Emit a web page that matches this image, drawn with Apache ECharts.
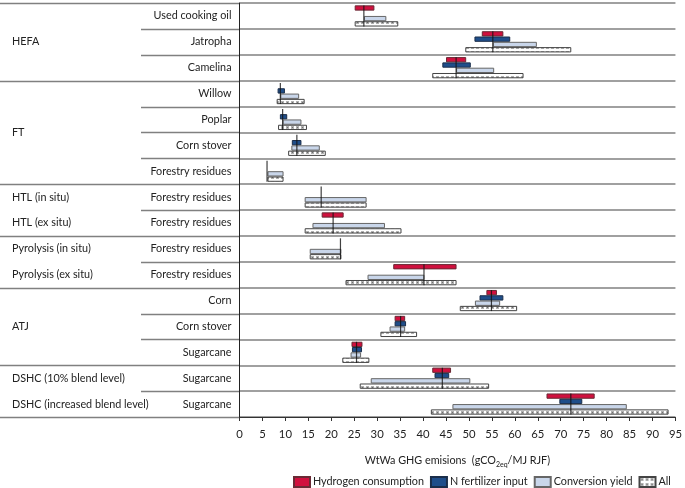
<!DOCTYPE html>
<html><head><meta charset="utf-8">
<script src="https://cdn.jsdelivr.net/npm/echarts@6/dist/echarts.min.js"></script>
<style>html,body{margin:0;padding:0;background:#fff}#c{width:685px;height:488px}</style>
</head><body><div id="c"></div>
<script>
// ---- data ----
const feedstocks = ['Used cooking oil','Jatropha','Camelina','Willow','Poplar','Corn stover','Forestry residues',
  'Forestry residues','Forestry residues','Forestry residues','Forestry residues','Corn','Corn stover','Sugarcane','Sugarcane','Sugarcane'];
const processLabels = [['HEFA',0,2],['FT',3,6],['HTL (in situ)',7,7],['HTL (ex situ)',8,8],
  ['Pyrolysis (in situ)',9,9],['Pyrolysis (ex situ)',10,10],['ATJ',11,13],
  ['DSHC (10% blend level)',14,14],['DSHC (increased blend level)',15,15]];
const groupBreaks = [0,3,7,9,11,14,16];
const baseline = [27.1,55.2,47.2,8.9,9.4,12.5,6.0,17.8,20.4,22.0,40.2,54.9,35.1,25.5,44.2,72.2];
const hydrogen = [[25.1,29.4],[52.8,57.5],[45.0,49.4],null,null,null,null,null,[17.9,22.7],null,[33.5,47.3],
  [53.8,56.1],[33.8,36.1],[24.4,26.8],[42.0,46.1],[66.9,77.4]];
const nFertilizer = [null,[51.2,59.0],[44.2,50.4],[8.3,9.9],[8.8,10.4],[11.4,13.5],null,null,null,null,null,
  [52.3,57.5],[33.8,36.3],[24.5,26.7],[42.5,45.7],[69.7,74.7]];
const conversion = [[27.1,32.0],[55.2,64.8],[47.2,55.5],[8.9,13.0],[9.4,13.5],[11.3,17.5],[6.1,9.6],[14.2,27.7],
  [15.9,31.7],[15.3,22.2],[27.9,40.3],[51.3,56.8],[32.7,36.1],[24.2,26.5],[28.6,50.3],[46.4,84.4]];
const allParams = [[25.1,34.6],[49.2,72.3],[42.0,61.9],[8.1,14.2],[8.4,14.7],[10.6,18.8],[6.1,9.6],[14.2,27.7],
  [14.2,35.3],[15.3,22.2],[23.1,47.3],[48.0,60.5],[30.7,38.7],[22.4,28.3],[26.2,54.4],[41.7,93.5]];
const seriesNames = ['Hydrogen consumption','N fertilizer input','Conversion yield','All'];
const xTicks = {min:0, max:95, interval:5};

// ---- rendering ----
const keys = feedstocks.map((_,i)=>'r'+i);
const pc = document.createElement('canvas');
pc.width = 5; pc.height = 5;
const g = pc.getContext('2d');
g.fillStyle = '#fff'; g.fillRect(0,0,5,5);
g.fillStyle = '#b0b0b0';
g.fillRect(1,1,3,1); g.fillRect(1,3,3,1); g.fillRect(1,2,1,1); g.fillRect(3,2,1,1);
g.fillStyle = '#707070'; g.fillRect(2,2,1,1);
const FONT = 'Lato';
const FS = 10.8;
const styles = [
  {color:'#d0103e', borderColor:'#6a2a35', borderWidth:1},
  {color:'#1f4e8a', borderColor:'#1b2e4a', borderWidth:1},
  {color:'#c9d6ea', borderColor:'#666', borderWidth:1},
  {color:{image:pc, repeat:'repeat'}, borderColor:'#444', borderWidth:1}
];
const sets = [hydrogen, nFertilizer, conversion, allParams];
const series = [];
sets.forEach((pairs, k) => {
  series.push({type:'bar', name:'_base'+k, stack:'s'+k, silent:true, barGap:'0%', barCategoryGap:'18%',
    data: pairs.map(p => p ? p[0] : null), itemStyle:{color:'rgba(0,0,0,0)', borderWidth:0},
    emphasis:{disabled:true}});
  series.push({type:'bar', name:seriesNames[k], stack:'s'+k, silent:true, barGap:'0%', barCategoryGap:'18%',
    data: pairs.map(p => p ? +(p[1]-p[0]).toFixed(2) : null), itemStyle:styles[k],
    emphasis:{disabled:true}});
});
series.push({type:'scatter', name:'_baseline', silent:true, z:5, symbol:'rect', symbolSize:[1.2,21],
  data: baseline.map((v,i)=>[v,keys[i]]), itemStyle:{color:'#111'}});

const chart = echarts.init(document.getElementById('c'), null, {renderer:'canvas'});
chart.setOption({
  animation:false,
  textStyle:{fontFamily:FONT},
  grid:{left:239.5, right:7, top:3, bottom:71},
  legend:{data:seriesNames, icon:'rect', left:293, top:476, padding:0, itemWidth:16, itemHeight:10, itemGap:6,
    textStyle:{fontFamily:FONT, fontSize:FS, color:'#222', padding:[0,0,0,-2]}, selectedMode:false},
  xAxis:{type:'value', min:xTicks.min, max:xTicks.max, interval:xTicks.interval,
    axisLine:{show:true, lineStyle:{color:'#333', width:1}},
    axisTick:{show:true, length:4, lineStyle:{color:'#333'}},
    axisLabel:{fontSize:FS+0.5, color:'#222', margin:12, fontFamily:FONT},
    splitLine:{show:false},
    name:'WtWa GHG emisions  (gCO{s|2eq}/MJ RJF)', nameLocation:'middle', nameGap:37,
    nameTextStyle:{fontSize:FS, color:'#222', fontFamily:FONT,
      rich:{s:{fontSize:7, fontFamily:FONT, color:'#222', padding:[7,0,0,0]}}}},
  yAxis:{type:'category', inverse:true, data:keys,
    axisLine:{show:true, lineStyle:{color:'#222', width:1}},
    axisTick:{show:false},
    axisLabel:{fontSize:FS, color:'#222', margin:8, fontFamily:FONT, formatter:(v)=>feedstocks[+v.slice(1)]},
    splitLine:{show:true, lineStyle:{color:'#808080', width:1.5}}},
  series
});

const yc = i => chart.convertToPixel({yAxisIndex:0}, keys[i]);
const band = yc(1) - yc(0);
const y0 = yc(0) - band/2;
const xAxisPx = chart.convertToPixel({xAxisIndex:0}, 0);
const els = [];
for (let k = 0; k <= feedstocks.length; k++) {
  const y = Math.round(y0 + k*band) + 0.5;
  const full = groupBreaks.includes(k);
  els.push({type:'line', silent:true, shape:{x1: full ? 0 : 141, y1:y, x2:xAxisPx, y2:y},
    style:{stroke:'#808080', lineWidth:1.5}});
}
processLabels.forEach(([t,a,b]) => {
  const y = (yc(a) + yc(b)) / 2;
  els.push({type:'text', silent:true, x:12, y:y, style:{text:t, fontSize:FS, fontFamily:FONT, fill:'#222',
    verticalAlign:'middle', align:'left'}});
});
chart.setOption({graphic:{elements:els}});
</script></body></html>
